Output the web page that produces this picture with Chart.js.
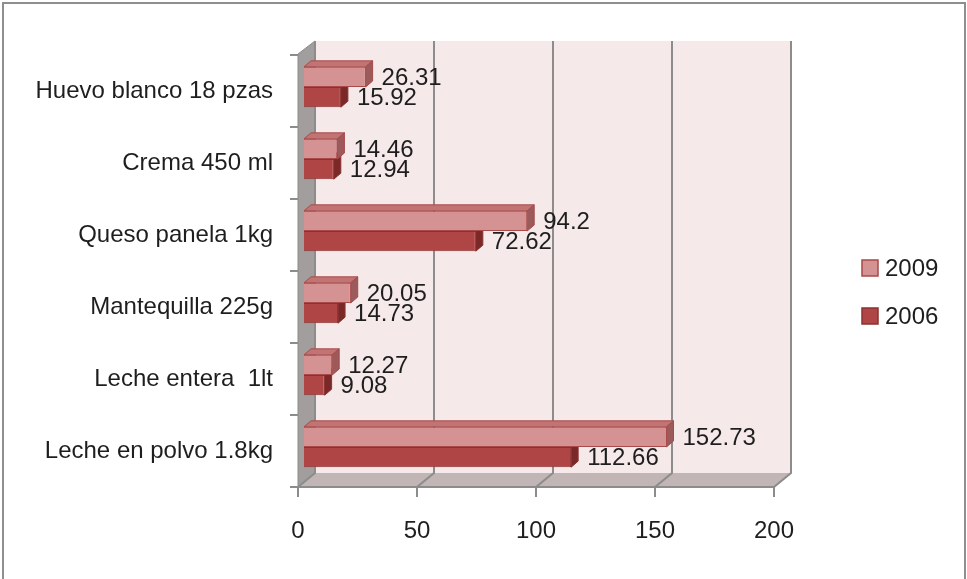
<!DOCTYPE html>
<html>
<head>
<meta charset="utf-8">
<script src="https://cdn.jsdelivr.net/npm/chart.js@4.4.1/dist/chart.umd.min.js"></script>
<style>
  html, body { margin: 0; padding: 0; background: #fff; }
  #wrap { width: 967px; height: 579px; }
</style>
</head>
<body>
<div id="wrap"><canvas id="precios"></canvas></div>
<script>
// precios de productos lacteos y huevo, 2006 vs 2009

const categories = ['Huevo blanco 18 pzas', 'Crema 450 ml', 'Queso panela 1kg',
  'Mantequilla 225g', 'Leche entera  1lt', 'Leche en polvo 1.8kg'];
const values2009 = [26.31, 14.46, 94.2, 20.05, 12.27, 152.73];
const values2006 = [15.92, 12.94, 72.62, 14.73, 9.08, 112.66];
const xTicks = [0, 50, 100, 150, 200];

const FONT = 'Liberation Sans';
const DEPTH_X = 17, DEPTH_Y = 14;   // profundidad de las paredes
const BAR_DX = 7, BAR_DY = 6;       // profundidad de cada barra
const SHIFT_X = 5, SHIFT_Y = -4;    // barras a un tercio del fondo

const faces = [
  { top: '#c27474', side: '#9c5a5a', edge: '#a84a4a' },
  { top: '#9a3a3a', side: '#7a2828', edge: '#8c3030' }
];

// fondo, marco y paredes 3D
const walls = {
  id: 'walls',
  beforeDraw(chart) {
    const { ctx, chartArea: a } = chart;
    const xs = chart.scales.x;
    ctx.save();
    ctx.fillStyle = '#fff';
    ctx.fillRect(0, 0, chart.width, chart.height);
    ctx.strokeStyle = '#8e8e8e';
    ctx.lineWidth = 2;
    ctx.strokeRect(3, 3, chart.width - 5, chart.height + 10);

    // pared del fondo
    ctx.fillStyle = '#f6e9e9';
    ctx.fillRect(a.left + DEPTH_X, a.top - DEPTH_Y, a.right - a.left, a.bottom - a.top);

    // piso
    ctx.fillStyle = '#c1b5b5';
    ctx.beginPath();
    ctx.moveTo(a.left, a.bottom);
    ctx.lineTo(a.left + DEPTH_X, a.bottom - DEPTH_Y);
    ctx.lineTo(a.right + DEPTH_X, a.bottom - DEPTH_Y);
    ctx.lineTo(a.right, a.bottom);
    ctx.closePath();
    ctx.fill();

    // pared izquierda
    ctx.fillStyle = '#a29e9e';
    ctx.beginPath();
    ctx.moveTo(a.left, a.top - 1);
    ctx.lineTo(a.left + DEPTH_X, a.top - DEPTH_Y);
    ctx.lineTo(a.left + DEPTH_X, a.bottom - DEPTH_Y);
    ctx.lineTo(a.left, a.bottom);
    ctx.closePath();
    ctx.fill();
    ctx.strokeStyle = '#8a8a8a';
    ctx.lineWidth = 1;
    ctx.stroke();

    // lineas de division en el fondo y en el piso
    ctx.strokeStyle = '#8c8c8c';
    ctx.lineWidth = 2;
    xTicks.forEach(v => {
      const x = xs.getPixelForValue(v);
      ctx.beginPath();
      ctx.moveTo(x + DEPTH_X, a.top - DEPTH_Y);
      ctx.lineTo(x + DEPTH_X, a.bottom - DEPTH_Y);
      ctx.lineTo(x, a.bottom);
      ctx.stroke();
    });
    ctx.restore();
  }
};

// barras con volumen y etiquetas de valor
const bars3d = {
  id: 'bars3d',
  beforeDatasetDraw(chart) {
    chart.ctx.save();
    chart.ctx.translate(SHIFT_X, SHIFT_Y);
  },
  afterDatasetDraw(chart, args) {
    const ctx = chart.ctx;
    const f = faces[args.index];
    const meta = chart.getDatasetMeta(args.index);
    ctx.strokeStyle = f.edge;
    ctx.lineWidth = 1;
    meta.data.forEach(bar => {
      const p = bar.getProps(['x', 'y', 'base', 'height'], true);
      const top = p.y - p.height / 2, bot = p.y + p.height / 2;
      ctx.fillStyle = f.top;
      ctx.beginPath();
      ctx.moveTo(p.base, top);
      ctx.lineTo(p.base + BAR_DX, top - BAR_DY);
      ctx.lineTo(p.x + BAR_DX, top - BAR_DY);
      ctx.lineTo(p.x, top);
      ctx.closePath();
      ctx.fill();
      ctx.stroke();
      ctx.fillStyle = f.side;
      ctx.beginPath();
      ctx.moveTo(p.x, top);
      ctx.lineTo(p.x + BAR_DX, top - BAR_DY);
      ctx.lineTo(p.x + BAR_DX, bot - BAR_DY);
      ctx.lineTo(p.x, bot);
      ctx.closePath();
      ctx.fill();
      ctx.stroke();
    });
    ctx.fillStyle = '#1e1e1e';
    ctx.font = '24px "' + FONT + '"';
    ctx.textAlign = 'left';
    ctx.textBaseline = 'middle';
    const vals = chart.data.datasets[args.index].data;
    meta.data.forEach((bar, i) => {
      const p = bar.getProps(['x', 'y'], true);
      ctx.fillText(String(vals[i]), p.x + BAR_DX + 9, p.y + 1);
    });
    ctx.restore();
  },
  afterDraw(chart) {
    // leyenda
    const ctx = chart.ctx;
    const sets = chart.data.datasets;
    ctx.save();
    ctx.font = '24px "' + FONT + '"';
    ctx.textBaseline = 'middle';
    sets.forEach((ds, i) => {
      const y = 268 + i * 48;
      ctx.fillStyle = ds.backgroundColor;
      ctx.strokeStyle = ds.borderColor;
      ctx.lineWidth = 1.5;
      ctx.fillRect(862, y - 8, 16, 16);
      ctx.strokeRect(862, y - 8, 16, 16);
      ctx.fillStyle = '#1e1e1e';
      ctx.fillText(ds.label, 885, y + 1);
    });
    ctx.restore();
  }
};

new Chart(document.getElementById('precios'), {
  type: 'bar',
  data: {
    labels: categories,
    datasets: [{
      label: '2009',
      data: values2009,
      backgroundColor: '#d49292',
      borderColor: '#a84a4a',
      borderWidth: 1
    }, {
      label: '2006',
      data: values2006,
      backgroundColor: '#b04545',
      borderColor: '#8c3030',
      borderWidth: 1
    }]
  },
  options: {
    indexAxis: 'y',
    responsive: true,
    maintainAspectRatio: false,
    devicePixelRatio: 1,
    animation: false,
    layout: { padding: { top: 55, right: 193, left: 0, bottom: 0 } },
    datasets: { bar: { categoryPercentage: 0.56, barPercentage: 1.0 } },
    plugins: {
      legend: { display: false },
      tooltip: { enabled: false }
    },
    scales: {
      x: {
        min: 0,
        max: 200,
        afterBuildTicks: s => { s.ticks = xTicks.map(v => ({ value: v })); },
        afterFit: s => { s.height = 92; },
        grid: { drawOnChartArea: false, tickLength: 10, color: '#8c8c8c', lineWidth: 2 },
        border: { display: true, color: '#8c8c8c', width: 2 },
        ticks: { padding: 20, color: '#1e1e1e', font: { family: FONT, size: 24 } }
      },
      y: {
        afterFit: s => { s.width = 298; },
        grid: { drawOnChartArea: false, offset: true, tickLength: 8, color: '#8c8c8c', lineWidth: 2 },
        border: { display: false },
        ticks: { padding: 17, color: '#1e1e1e', font: { family: FONT, size: 24 } }
      }
    }
  },
  plugins: [walls, bars3d]
});
</script>
</body>
</html>
